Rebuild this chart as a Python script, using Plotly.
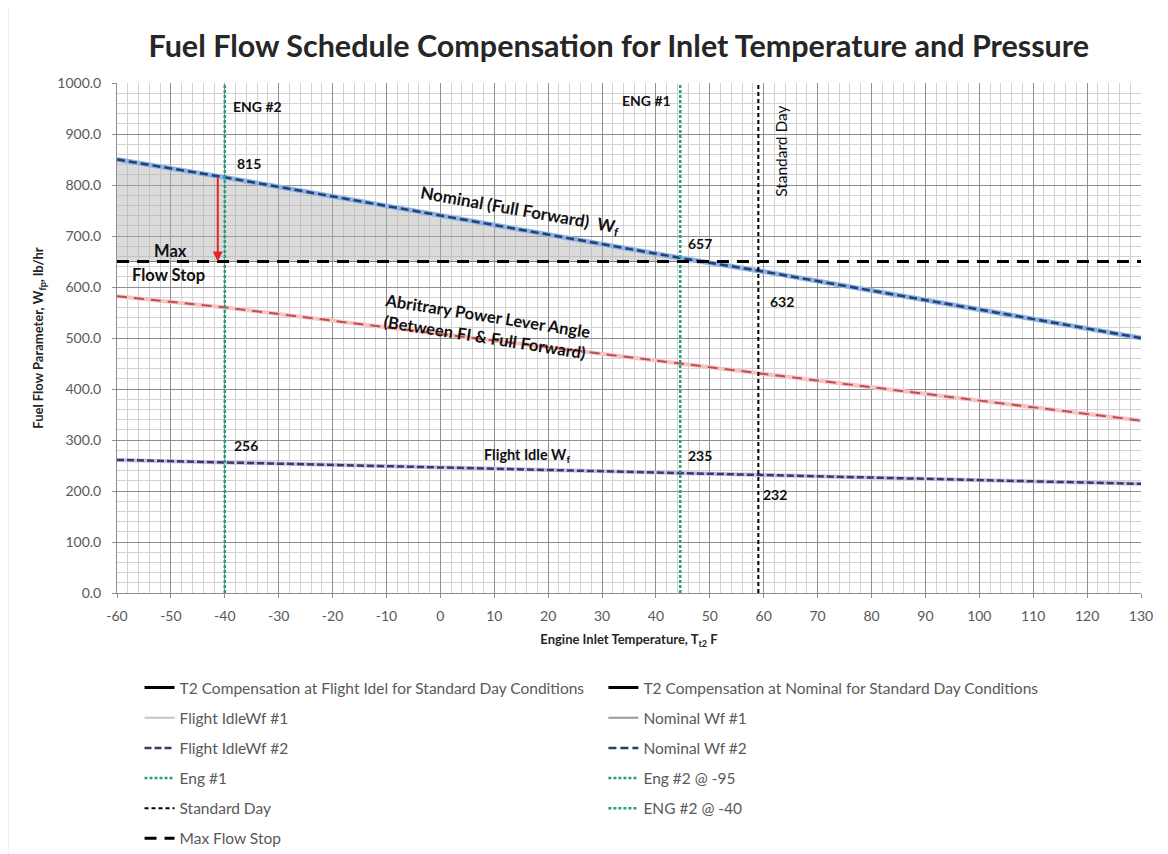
import numpy as np
import plotly.graph_objects as go

# --- data --------------------------------------------------------------
TEMP_PTS = [-60, -40, 44.5, 59, 130]
NOMINAL_WF = [850, 815, 657, 632, 500]
FLIGHT_IDLE_WF = [261, 256, 235, 232, 214]
PLA_WF = [582, 560, 450, 431, 338]

MAX_FLOW_STOP = 650
ENG2_T = -40
ENG1_T = 44.5
STD_DAY_T = 59
GAP_T = -41.3  # red arrow: nominal down to the max flow stop

X_RANGE = [-60, 130]
Y_RANGE = [0, 1000]
X_TICKS = list(range(-60, 131, 10))

# (text, x, y, angle, size)
LABELS = [
    ("ENG #2", -34, 954, 0, 14),
    ("ENG #1", 38.2, 966, 0, 14),
    ("815", -35.5, 843, 0, 14),
    ("Max", -50, 670, 0, 16.5),
    ("Flow Stop", -50.5, 624, 0, 16.5),
    ("Nominal (Full Forward)  W<sub>f</sub>", 14.8, 749, 10, 17),
    ("657", 48.2, 686, 0, 14),
    ("632", 63.4, 572, 0, 14),
    ("Abritrary Power Lever Angle<br>(Between FI & Full Forward)", 8.5, 522, 9, 16.5),
    ("256", -36, 290, 0, 14),
    ("Flight Idle W<sub>f</sub>", 16, 270, 0, 14.5),
    ("235", 48.2, 270, 0, 14),
    ("232", 62, 194, 0, 14),
]

FONT = "Lato, 'Open Sans', sans-serif"

fig = go.Figure()

# shaded region between nominal schedule and the max flow stop
x_cross = float(np.interp(MAX_FLOW_STOP, NOMINAL_WF[::-1], TEMP_PTS[::-1]))
shade_x = [t for t in TEMP_PTS if t < x_cross] + [x_cross, x_cross, TEMP_PTS[0]]
shade_y = [w for t, w in zip(TEMP_PTS, NOMINAL_WF) if t < x_cross] + [MAX_FLOW_STOP, MAX_FLOW_STOP, MAX_FLOW_STOP]
fig.add_trace(go.Scatter(
    x=shade_x, y=shade_y, fill="toself", fillcolor="rgba(175,175,175,0.45)",
    line=dict(color="#7f7f7f", width=1), mode="lines", showlegend=False, hoverinfo="skip",
))

# halos under the dashed schedule lines
for ys, col, w in [(PLA_WF, "#f5c4c4", 4), (FLIGHT_IDLE_WF, "#cbbbe8", 4), (NOMINAL_WF, "#8db4e4", 5)]:
    fig.add_trace(go.Scatter(x=TEMP_PTS, y=ys, mode="lines", line=dict(color=col, width=w),
                             showlegend=False, hoverinfo="skip"))

fig.add_trace(go.Scatter(x=TEMP_PTS, y=PLA_WF, mode="lines", showlegend=False,
                         line=dict(color="#c0504d", width=2, dash="10px,7px")))

left = dict(legend="legend")
right = dict(legend="legend2")

fig.add_trace(go.Scatter(x=[None], y=[None], mode="lines", legendgroup="a",
                         name="T2 Compensation at Flight Idel for Standard Day Conditions",
                         line=dict(color="black", width=3), **left))
fig.add_trace(go.Scatter(x=[None], y=[None], mode="lines", legendgroup="b",
                         name="T2 Compensation at Nominal for Standard Day Conditions",
                         line=dict(color="black", width=3), **right))
fig.add_trace(go.Scatter(x=[None], y=[None], mode="lines", legendgroup="c",
                         name="Flight IdleWf #1", line=dict(color="#c4c8bc", width=2), **left))
fig.add_trace(go.Scatter(x=[None], y=[None], mode="lines", legendgroup="d",
                         name="Nominal Wf #1", line=dict(color="#9a9a9a", width=2), **right))
fig.add_trace(go.Scatter(x=TEMP_PTS, y=FLIGHT_IDLE_WF, mode="lines", legendgroup="e",
                         name="Flight IdleWf #2", line=dict(color="#3b3a66", width=2.5, dash="7px,3px"), **left))
fig.add_trace(go.Scatter(x=TEMP_PTS, y=NOMINAL_WF, mode="lines", legendgroup="f",
                         name="Nominal Wf #2", line=dict(color="#23406f", width=2.5, dash="8px,4px"), **right))
fig.add_trace(go.Scatter(x=[ENG1_T, ENG1_T], y=Y_RANGE, mode="lines", legendgroup="g",
                         name="Eng #1", line=dict(color="#22a07a", width=2.5, dash="3px,2px"), **left))
fig.add_trace(go.Scatter(x=[None], y=[None], mode="lines", legendgroup="h",
                         name="Eng #2 @ -95", line=dict(color="#22a07a", width=2.5, dash="3px,2px"), **right))
fig.add_trace(go.Scatter(x=[STD_DAY_T, STD_DAY_T], y=Y_RANGE, mode="lines", legendgroup="i",
                         name="Standard Day", line=dict(color="black", width=2, dash="4px,3px"), **left))
fig.add_trace(go.Scatter(x=[ENG2_T, ENG2_T], y=Y_RANGE, mode="lines", legendgroup="j",
                         name="ENG #2 @ -40", line=dict(color="#22a07a", width=2.5, dash="3px,2px"), **right))
fig.add_trace(go.Scatter(x=X_RANGE, y=[MAX_FLOW_STOP, MAX_FLOW_STOP], mode="lines", legendgroup="k",
                         name="Max Flow Stop", line=dict(color="black", width=3, dash="12px,8px"), **left))

# red arrow from the nominal schedule down to the stop
gap_top = float(np.interp(GAP_T, TEMP_PTS, NOMINAL_WF))
fig.add_annotation(x=GAP_T, y=MAX_FLOW_STOP, ax=GAP_T, ay=gap_top, xref="x", yref="y",
                   axref="x", ayref="y", text="", showarrow=True, arrowhead=2,
                   arrowsize=1, arrowwidth=2, arrowcolor="#e0262a")

for text, x, y, ang, size in LABELS:
    fig.add_annotation(x=x, y=y, text=f"<b>{text}</b>", showarrow=False, textangle=ang,
                       font=dict(family=FONT, size=size, color="#111111"))
fig.add_annotation(x=63.3, y=866, text="Standard Day", showarrow=False, textangle=-90,
                   font=dict(family=FONT, size=15.5, color="#111111"))

# thin chart-area border on the left edge
fig.add_shape(type="line", xref="paper", yref="paper", x0=-0.107, x1=-0.107, y0=-0.52, y1=1.17,
              line=dict(color="#b0b0b0", width=1.5))

axis_common = dict(
    showgrid=True, gridcolor="#8f8f8f", gridwidth=1, automargin=False,
    showline=True, linecolor="#8f8f8f", ticks="outside", ticklen=4, tickcolor="#8f8f8f",
    tickfont=dict(family=FONT, size=14, color="#595959"), zeroline=False,
)

# page body adds an 8px offset, so the figure is 8px smaller than the window
fig.update_layout(
    width=1160, height=846,
    paper_bgcolor="white", plot_bgcolor="white",
    margin=dict(l=109, r=27, t=75, b=261, autoexpand=False),
    title=dict(text="<b>Fuel Flow Schedule Compensation for Inlet Temperature and Pressure</b>",
               xref="paper", x=0.49, xanchor="center", y=0.955, yanchor="middle",
               font=dict(family=FONT, size=30.5, color="#262626")),
    xaxis=dict(range=X_RANGE, tickvals=X_TICKS, ticktext=[str(v) for v in X_TICKS],
               ticklabelstandoff=6,
               minor=dict(dtick=2, showgrid=True, gridcolor="#d2d2d2", ticks=""),
               title=dict(text="<b>Engine Inlet Temperature, T<sub>t2</sub> F</b>", standoff=12,
                          font=dict(family=FONT, size=13, color="#262626")),
               **axis_common),
    yaxis=dict(range=Y_RANGE, dtick=100, tickformat=".1f", ticklabelstandoff=8,
               minor=dict(dtick=20, showgrid=True, gridcolor="#d2d2d2", ticks=""),
               title=dict(text="<b>Fuel Flow Parameter, W<sub>fp</sub>, lb/hr</b>", standoff=10,
                          font=dict(family=FONT, size=13, color="#262626")),
               **axis_common),
    legend=dict(x=0.022, y=-0.153, xanchor="left", yanchor="top", orientation="v",
                tracegroupgap=7, font=dict(family=FONT, size=15.5, color="#595959"),
                bgcolor="rgba(0,0,0,0)"),
    legend2=dict(x=0.475, y=-0.153, xanchor="left", yanchor="top", orientation="v",
                 tracegroupgap=7, font=dict(family=FONT, size=15.5, color="#595959"),
                 bgcolor="rgba(0,0,0,0)"),
)

fig.write_html("out.html")
